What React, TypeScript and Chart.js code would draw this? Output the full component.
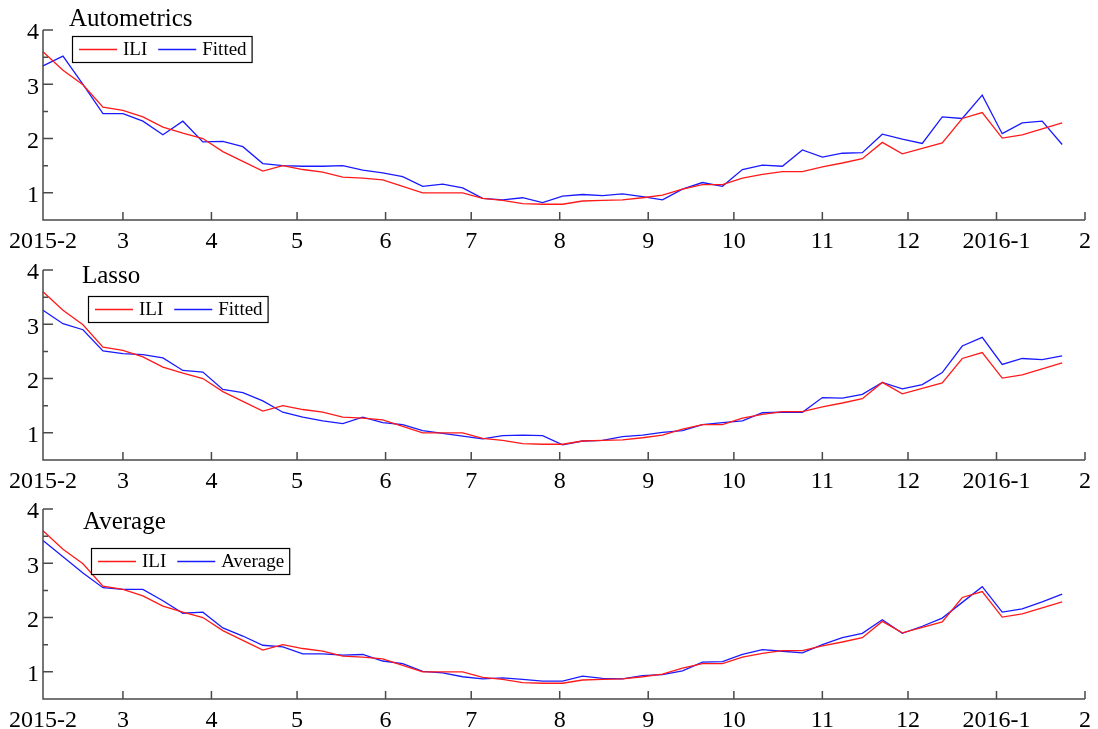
import React, { useEffect, useRef } from "react";
import { Chart, registerables } from "chart.js";

Chart.register(...registerables);

// Days since 2015-02-01 of each weekly observation
const WEEK_DAYS = [
  0, 7, 14, 21, 28, 35, 42, 49, 56, 63, 70, 77, 84, 91, 98, 105, 112, 119, 126,
  133, 140, 147, 154, 161, 168, 175, 182, 189, 196, 203, 210, 217, 224, 231,
  238, 245, 252, 259, 266, 273, 280, 287, 294, 301, 308, 315, 322, 329, 336,
  343, 350, 357,
];

// Month boundaries (days since 2015-02-01) and their labels
const MONTH_DAYS = [0, 28, 59, 89, 120, 150, 181, 212, 242, 273, 303, 334, 365];
const MONTH_LABELS = ["2015-2", "3", "4", "5", "6", "7", "8", "9", "10", "11", "12", "2016-1", "2"];

const Y_MAJOR = [1, 2, 3, 4];
const Y_MINOR = [1.5, 2.5, 3.5];

// Observed ILI rate
const ILI = [
  3.6, 3.26, 2.99, 2.58, 2.52, 2.4, 2.21, 2.1, 2.0, 1.76, 1.58, 1.4, 1.5, 1.43,
  1.38, 1.29, 1.27, 1.24, 1.12, 1.0, 1.0, 1.0, 0.9, 0.86, 0.8, 0.79, 0.79, 0.85,
  0.86, 0.87, 0.91, 0.96, 1.07, 1.15, 1.15, 1.27, 1.34, 1.39, 1.39, 1.48, 1.55,
  1.63, 1.93, 1.72, 1.82, 1.92, 2.37, 2.48, 2.01, 2.07, 2.18, 2.29,
];

// Autometrics fitted values
const AUTOMETRICS = [
  3.34, 3.52, 3.0, 2.46, 2.46, 2.32, 2.07, 2.32, 1.94, 1.95, 1.85, 1.54, 1.5,
  1.49, 1.49, 1.5, 1.42, 1.37, 1.3, 1.12, 1.16, 1.09, 0.9, 0.87, 0.91, 0.82,
  0.94, 0.97, 0.95, 0.98, 0.93, 0.87, 1.07, 1.19, 1.12, 1.43, 1.51, 1.49, 1.79,
  1.66, 1.73, 1.74, 2.08, 1.99, 1.91, 2.4, 2.37, 2.8, 2.09, 2.29, 2.32, 1.89,
];

// Lasso fitted values
const LASSO = [
  3.26, 3.01, 2.9, 2.51, 2.46, 2.44, 2.38, 2.15, 2.12, 1.8, 1.74, 1.59, 1.38,
  1.29, 1.22, 1.17, 1.29, 1.19, 1.15, 1.04, 0.99, 0.94, 0.89, 0.95, 0.96, 0.95,
  0.78, 0.85, 0.86, 0.93, 0.96, 1.01, 1.04, 1.15, 1.19, 1.22, 1.37, 1.38, 1.38,
  1.65, 1.64, 1.71, 1.93, 1.81, 1.89, 2.11, 2.6, 2.76, 2.26, 2.37, 2.35, 2.42,
];

// Average of the two fits
const AVERAGE = [
  3.42, 3.12, 2.82, 2.55, 2.52, 2.52, 2.31, 2.08, 2.1, 1.81, 1.66, 1.49, 1.46,
  1.33, 1.33, 1.31, 1.32, 1.2, 1.15, 1.01, 0.98, 0.91, 0.87, 0.89, 0.86, 0.83,
  0.83, 0.92, 0.88, 0.87, 0.93, 0.95, 1.02, 1.18, 1.19, 1.32, 1.41, 1.38, 1.35,
  1.5, 1.63, 1.71, 1.96, 1.71, 1.84, 1.99, 2.28, 2.57, 2.1, 2.16, 2.29, 2.43,
];

const SERIF = '"Liberation Serif", "Times New Roman", serif';
const AXIS_COLOR = "#4a4a4a";
const RED = "#ff1a1a";
const BLUE = "#1a1aff";

const CANVAS_W = 1098;
const CANVAS_H = 252;

type PanelDef = {
  title: string;
  fitLabel: string;
  fit: number[];
  top: number;
  titleX: number;
  titleY: number;
  legendX: number;
  legendY: number;
};

const PANELS: PanelDef[] = [
  { title: "Autometrics", fitLabel: "Fitted", fit: AUTOMETRICS, top: 0, titleX: 69, titleY: 26, legendX: 72, legendY: 36 },
  { title: "Lasso", fitLabel: "Fitted", fit: LASSO, top: 240, titleX: 82, titleY: 43, legendX: 88, legendY: 56 },
  { title: "Average", fitLabel: "Average", fit: AVERAGE, top: 479, titleX: 83, titleY: 50, legendX: 91, legendY: 69 },
];

// Inward tick marks, axis lines, panel title and boxed legend
const decorPlugin = {
  id: "panelDecor",
  afterDraw(chart: any, _args: any, opts: any) {
    const ctx: CanvasRenderingContext2D = chart.ctx;
    const xs = chart.scales.x;
    const ys = chart.scales.y;
    const area = chart.chartArea;
    ctx.save();
    ctx.strokeStyle = AXIS_COLOR;
    ctx.lineWidth = 1.5;
    ctx.beginPath();
    ctx.moveTo(area.left, area.top);
    ctx.lineTo(area.left, area.bottom);
    ctx.lineTo(area.right, area.bottom);
    for (const d of MONTH_DAYS) {
      const px = xs.getPixelForValue(d);
      ctx.moveTo(px, area.bottom);
      ctx.lineTo(px, area.bottom - 8);
    }
    for (const v of Y_MAJOR) {
      const py = ys.getPixelForValue(v);
      ctx.moveTo(area.left, py);
      ctx.lineTo(area.left + 10, py);
    }
    for (const v of Y_MINOR) {
      const py = ys.getPixelForValue(v);
      ctx.moveTo(area.left, py);
      ctx.lineTo(area.left + 5, py);
    }
    ctx.stroke();

    // title
    ctx.fillStyle = "#000";
    ctx.font = `25px ${SERIF}`;
    ctx.textBaseline = "alphabetic";
    ctx.textAlign = "left";
    ctx.fillText(opts.title, opts.titleX, opts.titleY);

    // legend
    ctx.font = `19px ${SERIF}`;
    const ds = chart.data.datasets;
    const sample = 38;
    const padL = 7;
    const gapText = 6;
    const gapItem = 11;
    const padR = 5;
    let w = padL;
    ds.forEach((d: any, i: number) => {
      w += sample + gapText + ctx.measureText(d.label).width;
      if (i < ds.length - 1) w += gapItem;
    });
    w += padR;
    const h = 26;
    const lx = opts.legendX;
    const ly = opts.legendY;
    ctx.fillStyle = "#fff";
    ctx.fillRect(lx, ly, w, h);
    ctx.strokeStyle = "#000";
    ctx.lineWidth = 1.2;
    ctx.strokeRect(lx + 0.5, ly + 0.5, w, h);
    let cx = lx + padL;
    const cy = ly + h / 2 + 0.5;
    ds.forEach((d: any) => {
      ctx.strokeStyle = d.borderColor;
      ctx.lineWidth = 1.3;
      ctx.beginPath();
      ctx.moveTo(cx, cy);
      ctx.lineTo(cx + sample, cy);
      ctx.stroke();
      cx += sample + gapText;
      ctx.fillStyle = "#000";
      ctx.textBaseline = "middle";
      ctx.fillText(d.label, cx, cy + 1);
      cx += ctx.measureText(d.label).width + gapItem;
    });
    ctx.restore();
  },
};

function makeChart(canvas: HTMLCanvasElement, p: PanelDef) {
  const toPoints = (vals: number[]) => vals.map((v, i) => ({ x: WEEK_DAYS[i], y: v }));
  return new Chart(canvas, {
    type: "line",
    data: {
      datasets: [
        { label: "ILI", data: toPoints(ILI), borderColor: RED, borderWidth: 1.3, pointRadius: 0, tension: 0, clip: false } as any,
        { label: p.fitLabel, data: toPoints(p.fit), borderColor: BLUE, borderWidth: 1.3, pointRadius: 0, tension: 0, clip: false } as any,
      ],
    },
    options: {
      responsive: false,
      animation: false,
      events: [],
      layout: { padding: { top: 30, right: 13, left: 0, bottom: 0 } },
      plugins: {
        legend: { display: false },
        title: { display: false },
        tooltip: { enabled: false },
        panelDecor: {
          title: p.title,
          titleX: p.titleX,
          titleY: p.titleY,
          legendX: p.legendX,
          legendY: p.legendY,
        },
      } as any,
      scales: {
        x: {
          type: "linear",
          min: 0,
          max: 365,
          grid: { display: false, drawTicks: false },
          border: { display: false },
          afterBuildTicks: (s: any) => {
            s.ticks = MONTH_DAYS.map((v) => ({ value: v }));
          },
          afterFit: (s: any) => {
            s.height = 32;
          },
          ticks: {
            autoSkip: false,
            maxRotation: 0,
            padding: 7,
            color: "#000",
            font: { family: SERIF, size: 24 },
            callback: (v: any) => {
              const idx = MONTH_DAYS.indexOf(Number(v));
              return idx >= 0 ? MONTH_LABELS[idx] : "";
            },
          },
        },
        y: {
          type: "linear",
          min: 0.5,
          max: 4,
          grid: { display: false, drawTicks: false },
          border: { display: false },
          afterBuildTicks: (s: any) => {
            s.ticks = Y_MAJOR.map((v) => ({ value: v }));
          },
          afterFit: (s: any) => {
            s.width = 43;
          },
          ticks: {
            padding: 4,
            labelOffset: 3,
            color: "#000",
            font: { family: SERIF, size: 24 },
            callback: (v: any) => String(v),
          },
        },
      },
    },
    plugins: [decorPlugin],
  });
}

export default function App() {
  const refs = [useRef<HTMLCanvasElement>(null), useRef<HTMLCanvasElement>(null), useRef<HTMLCanvasElement>(null)];

  useEffect(() => {
    const charts = PANELS.map((p, i) => makeChart(refs[i].current as HTMLCanvasElement, p));
    return () => charts.forEach((c) => c.destroy());
  }, []);

  return (
    <div style={{ position: "fixed", left: 0, top: 0, width: CANVAS_W, height: 729, background: "#fff", overflow: "hidden" }}>
      {PANELS.map((p, i) => (
        <canvas
          key={p.title}
          ref={refs[i]}
          width={CANVAS_W}
          height={CANVAS_H}
          style={{ position: "absolute", left: 0, top: p.top, width: CANVAS_W, height: CANVAS_H }}
        />
      ))}
    </div>
  );
}
